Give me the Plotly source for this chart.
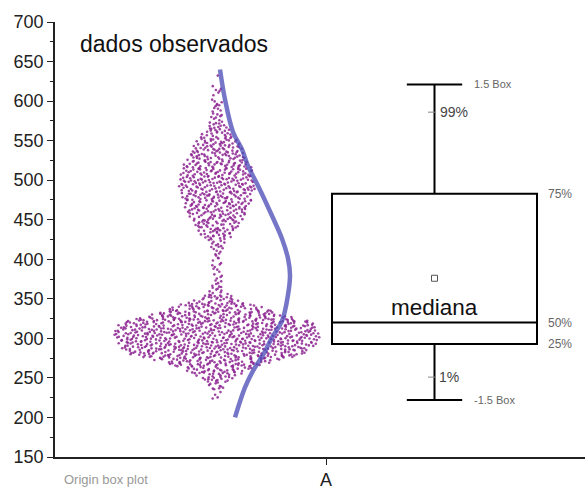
import numpy as np
import plotly.graph_objects as go

# ---------------- data ----------------
category = ["A"]

# box-plot statistics (Origin style)
box_q1 = [293]
box_median = [320]
box_q3 = [483]
box_lower = [222]     # -1.5 Box
box_upper = [621]     # 1.5 Box
box_mean = [376]
pct_99 = [586]
pct_1 = [251]

swarm_bin = [220, 230, 240, 250, 260, 270, 280, 290, 300, 310, 320, 330, 340, 350,
             360, 370, 380, 390, 400, 410, 420, 430, 440, 450, 460, 470, 480, 490,
             500, 510, 520, 530, 540, 550, 560, 570, 580, 590, 600, 610, 620, 630]
swarm_count = [1, 3, 10, 22, 42, 72, 115, 130, 135, 135, 128, 88, 58, 24,
               10, 6, 5, 5, 5, 6, 10, 20, 28, 34, 40, 44, 47, 50,
               50, 48, 44, 38, 33, 28, 18, 12, 8, 6, 5, 4, 2, 1]

# fitted normal curve (value, curve offset)
curve_y = [640, 602, 561, 539, 518, 493, 455, 426, 401, 380, 355, 322, 301, 279, 259, 238, 200]
curve_x = [0.03, 0.08, 0.16, 0.25, 0.31, 0.41, 0.55, 0.65, 0.71, 0.73, 0.71, 0.65, 0.55, 0.46, 0.36, 0.28, 0.18]

# ---------------- layout helpers ----------------
SW_CENTER = -1.09      # swarm centre relative to category A
BOX_X = 1.085          # box centre relative to category A
HW_PER_COUNT = 0.0076  # beeswarm half-width per point in a bin


def halton(i, base):
    f, r = 1.0, 0.0
    while i > 0:
        f /= base
        r += f * (i % base)
        i //= base
    return r


bins = np.array(swarm_bin, float)
hw = np.maximum(np.array(swarm_count, float) * HW_PER_COUNT, 0.05)
xs, ys = [], []
k = 7
for b, n in zip(swarm_bin, swarm_count):
    for i in range(n):
        k += 1
        u = halton(k, 2)
        v = halton(k, 3)
        yy = b - 5 + 10 * v
        h = np.interp(yy, bins, hw)
        xs.append(SW_CENTER + (2 * u - 1) * h)
        ys.append(yy)

FONT = "Liberation Sans, Arial, sans-serif"

fig = go.Figure()

fig.add_trace(go.Scatter(
    x=xs, y=ys, mode="markers",
    marker=dict(size=2.6, color="rgb(140,35,145)", opacity=0.85, line=dict(width=0)),
    hoverinfo="skip", showlegend=False))

fig.add_trace(go.Scatter(
    x=[SW_CENTER + c for c in curve_x], y=curve_y, mode="lines",
    line=dict(color="rgba(80,80,185,0.78)", width=4.5, shape="spline"),
    hoverinfo="skip", showlegend=False))

fig.add_trace(go.Box(
    x=[BOX_X], q1=box_q1, median=box_median, q3=box_q3,
    lowerfence=box_lower, upperfence=box_upper,
    width=2.05, whiskerwidth=0.27, fillcolor="rgba(255,255,255,0)",
    line=dict(color="black", width=2), boxpoints=False,
    hoverinfo="skip", showlegend=False))

fig.add_trace(go.Scatter(
    x=[BOX_X], y=box_mean, mode="markers",
    marker=dict(symbol="square-open", size=6, color="#555", line=dict(width=1)),
    hoverinfo="skip", showlegend=False))

fig.add_trace(go.Scatter(
    x=[BOX_X - 0.03, BOX_X - 0.03], y=[pct_99[0], pct_1[0]], mode="markers",
    marker=dict(symbol="line-ew", size=5, color="#888", line=dict(width=1, color="#888")),
    hoverinfo="skip", showlegend=False))

ann = []
def add(text, x, y, size, color, xanchor="left", yanchor="middle", xref="x", yref="y", yshift=0):
    ann.append(dict(text=text, x=x, y=y, xref=xref, yref=yref, showarrow=False,
                    xanchor=xanchor, yanchor=yanchor, yshift=yshift,
                    font=dict(family=FONT, size=size, color=color)))

add("1.5 Box", 1.46, box_upper[0], 11, "#666")
add("-1.5 Box", 1.46, box_lower[0], 11, "#666")
add("99%", 1.12, pct_99[0], 14, "#444")
add("1%", 1.11, pct_1[0], 14, "#444")
add("75%", 2.2, box_q3[0], 12, "#666")
add("50%", 2.2, box_median[0], 12, "#666")
add("25%", 2.2, box_q1[0], 12, "#666")
add("mediana", BOX_X, box_median[0], 22.5, "#111", xanchor="center", yanchor="bottom", yshift=1)
add("dados observados", 0.044, 0.95, 23, "#111", xref="paper", yref="paper")
add("Origin box plot", 0.013, -0.052, 13, "#999", xref="paper", yref="paper")

fig.update_layout(
    width=585, height=490,
    margin=dict(l=55, r=0, t=22, b=30),
    paper_bgcolor="white", plot_bgcolor="white",
    font=dict(family=FONT, size=18, color="#222"),
    annotations=ann,
    xaxis=dict(range=[-2.71, 2.59], tickvals=[0], ticktext=category,
               showline=True, linecolor="#222", linewidth=1.5,
               ticks="outside", ticklen=6, tickcolor="#222",
               showgrid=False, zeroline=False, fixedrange=True,
               tickfont=dict(size=18)),
    yaxis=dict(range=[150, 700], dtick=50, tick0=150,
               showline=True, linecolor="#222", linewidth=1.5,
               ticks="outside", ticklen=6, tickcolor="#222",
               minor=dict(dtick=25, ticks="outside", ticklen=3, tickcolor="#222"),
               showgrid=False, zeroline=False, fixedrange=True,
               tickfont=dict(size=18)),
)

fig.write_html("out.html")
